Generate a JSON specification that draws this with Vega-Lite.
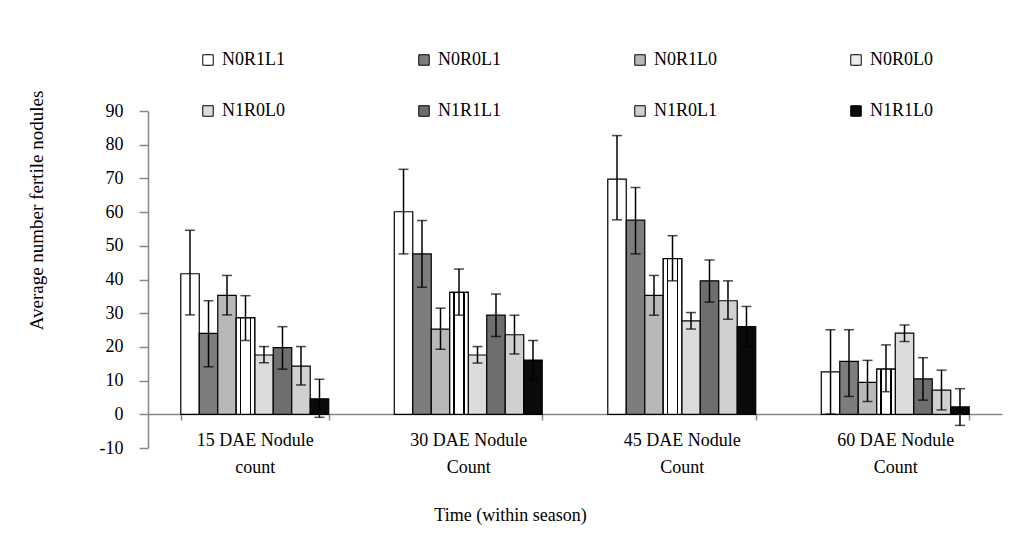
{
  "$schema": "https://vega.github.io/schema/vega-lite/v6.json",
  "width": 854,
  "height": 337,
  "autosize": {"type": "none"},
  "padding": {"left": 148, "top": 111, "right": 15, "bottom": 96},
  "background": "white",
  "config": {
    "view": {"stroke": null},
    "font": "Liberation Serif",
    "axis": {"labelFont": "Liberation Serif", "titleFont": "Liberation Serif", "labelColor": "#000", "titleColor": "#000", "titleFontWeight": "normal", "domainColor": "#888888", "tickColor": "#888888", "domainWidth": 1.5, "tickWidth": 1.5, "grid": false},
    "axisY": {"tickCount": 20, "labelOverlap": false, "labelFontSize": 18, "tickSize": 9, "labelPadding": 16},
    "legend": {"labelFont": "Liberation Serif"}
  },
  "data": {"values": [
    {"time": "15 DAE Nodule count", "treatment": "N0R1L1", "mean": 41.7, "lo": 29.5, "hi": 54.6},
    {"time": "15 DAE Nodule count", "treatment": "N0R0L1", "mean": 24.0, "lo": 14.1, "hi": 33.7},
    {"time": "15 DAE Nodule count", "treatment": "N0R1L0", "mean": 35.3, "lo": 29.5, "hi": 41.2},
    {"time": "15 DAE Nodule count", "treatment": "N0R0L0", "mean": 28.6, "lo": 21.9, "hi": 35.2},
    {"time": "15 DAE Nodule count", "treatment": "N1R0L0", "mean": 17.6, "lo": 15.3, "hi": 20.1},
    {"time": "15 DAE Nodule count", "treatment": "N1R1L1", "mean": 19.8, "lo": 13.4, "hi": 26.0},
    {"time": "15 DAE Nodule count", "treatment": "N1R0L1", "mean": 14.3, "lo": 8.7, "hi": 20.1},
    {"time": "15 DAE Nodule count", "treatment": "N1R1L0", "mean": 4.6, "lo": -0.9, "hi": 10.4},
    {"time": "30 DAE Nodule Count", "treatment": "N0R1L1", "mean": 60.1, "lo": 47.6, "hi": 72.7},
    {"time": "30 DAE Nodule Count", "treatment": "N0R0L1", "mean": 47.6, "lo": 37.7, "hi": 57.5},
    {"time": "30 DAE Nodule Count", "treatment": "N0R1L0", "mean": 25.3, "lo": 19.3, "hi": 31.5},
    {"time": "30 DAE Nodule Count", "treatment": "N0R0L0", "mean": 36.2, "lo": 29.4, "hi": 43.1},
    {"time": "30 DAE Nodule Count", "treatment": "N1R0L0", "mean": 17.6, "lo": 15.2, "hi": 20.1},
    {"time": "30 DAE Nodule Count", "treatment": "N1R1L1", "mean": 29.4, "lo": 23.1, "hi": 35.7},
    {"time": "30 DAE Nodule Count", "treatment": "N1R0L1", "mean": 23.6, "lo": 17.9, "hi": 29.4},
    {"time": "30 DAE Nodule Count", "treatment": "N1R1L0", "mean": 16.1, "lo": 10.3, "hi": 21.9},
    {"time": "45 DAE Nodule Count", "treatment": "N0R1L1", "mean": 69.8, "lo": 57.7, "hi": 82.7},
    {"time": "45 DAE Nodule Count", "treatment": "N0R0L1", "mean": 57.6, "lo": 47.6, "hi": 67.3},
    {"time": "45 DAE Nodule Count", "treatment": "N0R1L0", "mean": 35.3, "lo": 29.4, "hi": 41.2},
    {"time": "45 DAE Nodule Count", "treatment": "N0R0L0", "mean": 46.2, "lo": 39.6, "hi": 53.0},
    {"time": "45 DAE Nodule Count", "treatment": "N1R0L0", "mean": 27.7, "lo": 25.3, "hi": 30.2},
    {"time": "45 DAE Nodule Count", "treatment": "N1R1L1", "mean": 39.6, "lo": 33.3, "hi": 45.8},
    {"time": "45 DAE Nodule Count", "treatment": "N1R0L1", "mean": 33.7, "lo": 28.2, "hi": 39.6},
    {"time": "45 DAE Nodule Count", "treatment": "N1R1L0", "mean": 26.0, "lo": 20.0, "hi": 32.0},
    {"time": "60 DAE Nodule Count", "treatment": "N0R1L1", "mean": 12.6, "lo": 0.1, "hi": 25.1},
    {"time": "60 DAE Nodule Count", "treatment": "N0R0L1", "mean": 15.7, "lo": 5.3, "hi": 25.1},
    {"time": "60 DAE Nodule Count", "treatment": "N0R1L0", "mean": 9.5, "lo": 3.8, "hi": 16.0},
    {"time": "60 DAE Nodule Count", "treatment": "N0R0L0", "mean": 13.4, "lo": 6.7, "hi": 20.6},
    {"time": "60 DAE Nodule Count", "treatment": "N1R0L0", "mean": 24.1, "lo": 21.6, "hi": 26.5},
    {"time": "60 DAE Nodule Count", "treatment": "N1R1L1", "mean": 10.5, "lo": 4.2, "hi": 16.8},
    {"time": "60 DAE Nodule Count", "treatment": "N1R0L1", "mean": 7.2, "lo": 1.3, "hi": 13.1},
    {"time": "60 DAE Nodule Count", "treatment": "N1R1L0", "mean": 2.2, "lo": -3.3, "hi": 7.6}
  ]},
  "encoding": {
    "x": {
      "field": "time", "type": "nominal", "sort": null,
      "scale": {"paddingInner": 0.307, "paddingOuter": 0.1535},
      "axis": {
        "title": "Time (within season)", "titleFontSize": 18, "titleX": 362, "titleY": 101, "titleBaseline": "middle", "titleAlign": "center", "titleAnchor": null,
        "labelAngle": 0, "labelFontSize": 18, "labelLineHeight": 27, "labelPadding": 11,
        "labelExpr": "[slice(datum.label, 0, 13), slice(datum.label, 14)]",
        "tickBand": "extent", "tickSize": 6, "offset": -34, "labelLimit": 0
      }
    },
    "xOffset": {"field": "treatment", "type": "nominal", "sort": null, "scale": {"paddingInner": 0, "paddingOuter": 0}}
  },
  "layer": [
    {
      "mark": {"type": "bar", "stroke": "#000", "strokeWidth": 1.2},
      "encoding": {
        "y": {
          "field": "mean", "type": "quantitative",
          "scale": {"domain": [-10, 90], "nice": false, "zero": false},
          "axis": {
            "title": "Average number fertile nodules", "titleFontSize": 19, "titleAngle": 270, "titleX": -112, "titleY": 99, "titleBaseline": "middle", "titleAlign": "center", "titleAnchor": null,
            "values": [-10, 0, 10, 20, 30, 40, 50, 60, 70, 80, 90], "tickCount": 20, "labelFontSize": 18, "tickSize": 9, "labelPadding": 16,
            "labelOverlap": false, "labelExpr": "'' + datum.value"
          }
        },
        "y2": {"datum": 0},
        "fill": {
          "field": "treatment", "type": "nominal", "sort": null,
          "scale": {
            "domain": ["N0R1L1", "N0R0L1", "N0R1L0", "N0R0L0", "N1R0L0", "N1R1L1", "N1R0L1", "N1R1L0"],
            "range": ["#ffffff", "#7d7d7d", "#b8b8b8", "#ececec", "#dcdcdc", "#6e6e6e", "#d0d0d0", "#0a0a0a"]
          },
          "legend": {
            "title": null, "orient": "none", "legendX": 51, "legendY": -60, "direction": "horizontal", "columns": 4,
            "columnPadding": 130, "rowPadding": 33, "gridAlign": "all", "padding": 0,
            "symbolType": "square", "symbolSize": 110, "symbolStrokeColor": "#000", "symbolStrokeWidth": 1, "symbolOpacity": 1,
            "labelFontSize": 18, "labelOffset": 5, "labelColor": "#000", "labelLimit": 0
          }
        }
      }
    },
    {
      "transform": [{"filter": "datum.treatment === 'N0R0L0'"}],
      "mark": {
        "type": "bar", "stroke": "#000", "strokeWidth": 1.2,
        "fill": {"gradient": "linear", "x1": 0, "y1": 0, "x2": 1, "y2": 0, "stops": [
          {"offset": 0, "color": "#ffffff"}, {"offset": 0.2, "color": "#ffffff"},
          {"offset": 0.2, "color": "#000000"}, {"offset": 0.28, "color": "#000000"},
          {"offset": 0.28, "color": "#ffffff"}, {"offset": 0.72, "color": "#ffffff"},
          {"offset": 0.72, "color": "#000000"}, {"offset": 0.8, "color": "#000000"},
          {"offset": 0.8, "color": "#ffffff"}, {"offset": 1, "color": "#ffffff"}
        ]}
      },
      "encoding": {
        "y": {"field": "mean", "type": "quantitative", "axis": {"title": "Average number fertile nodules", "values": [-10, 0, 10, 20, 30, 40, 50, 60, 70, 80, 90], "tickCount": 20, "labelOverlap": false, "labelExpr": "'' + datum.value"}},
        "y2": {"datum": 0}
      }
    },
    {
      "mark": {"type": "rule", "color": "#000", "strokeWidth": 1.5},
      "encoding": {
        "y": {"field": "lo", "type": "quantitative", "axis": {"title": "Average number fertile nodules", "values": [-10, 0, 10, 20, 30, 40, 50, 60, 70, 80, 90], "tickCount": 20, "labelOverlap": false, "labelExpr": "'' + datum.value"}},
        "y2": {"field": "hi"}
      }
    },
    {
      "mark": {"type": "tick", "color": "#000", "thickness": 1.5, "size": 10},
      "encoding": {"y": {"field": "lo", "type": "quantitative", "axis": {"title": "Average number fertile nodules", "values": [-10, 0, 10, 20, 30, 40, 50, 60, 70, 80, 90], "tickCount": 20, "labelOverlap": false, "labelExpr": "'' + datum.value"}}}
    },
    {
      "mark": {"type": "tick", "color": "#000", "thickness": 1.5, "size": 10},
      "encoding": {"y": {"field": "hi", "type": "quantitative", "axis": {"title": "Average number fertile nodules", "values": [-10, 0, 10, 20, 30, 40, 50, 60, 70, 80, 90], "tickCount": 20, "labelOverlap": false, "labelExpr": "'' + datum.value"}}}
    }
  ]
}
